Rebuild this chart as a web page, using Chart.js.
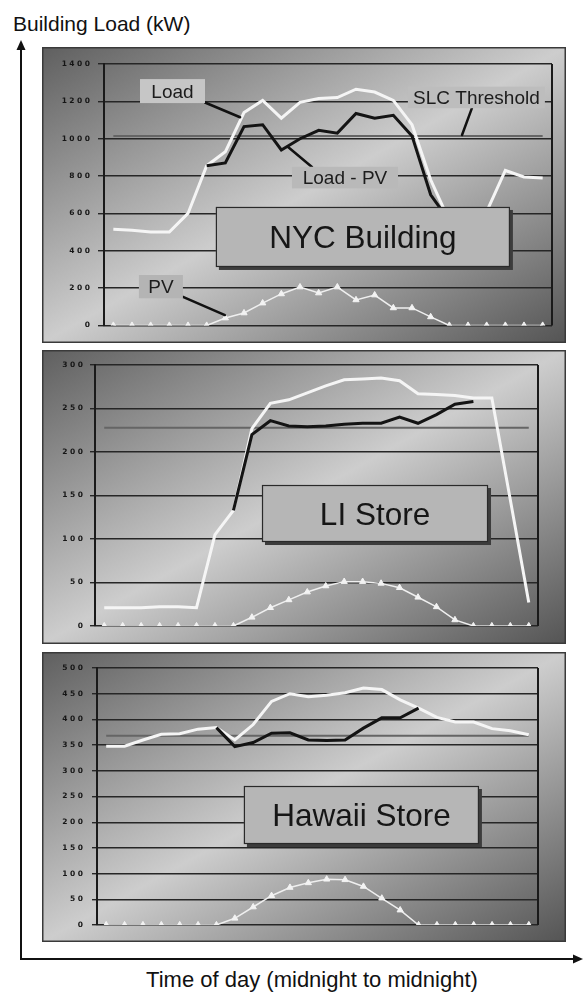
<!DOCTYPE html>
<html>
<head>
<meta charset="utf-8">
<script src="https://cdn.jsdelivr.net/npm/chart.js@4/dist/chart.umd.min.js"></script>
<style>
  html, body { margin: 0; padding: 0; background: #fff; }
  body { width: 583px; height: 995px; position: relative; overflow: hidden;
         font-family: "Liberation Sans", Arial, sans-serif; }
  .axis-title { position: absolute; color: #111; white-space: nowrap; line-height: 1; }
  canvas.panel { position: absolute; left: 42px; }
  svg { position: absolute; left: 0; top: 0; }
</style>
</head>
<body>
<div class="axis-title" style="left:13px; top:13px; font-size:21px;">Building Load (kW)</div>
<div class="axis-title" style="left:0; width:624px; text-align:center; top:969px; font-size:22px;">Time of day (midnight to midnight)</div>

<svg width="583" height="995">
  <line x1="21" y1="48" x2="21" y2="960" stroke="#111" stroke-width="2"/>
  <polygon points="21,40 16.5,50 25.5,50" fill="#111"/>
  <line x1="20" y1="959" x2="575" y2="959" stroke="#111" stroke-width="2"/>
  <polygon points="583,959 573,954.5 573,963.5" fill="#111"/>
</svg>

<canvas id="nyc" class="panel" width="524" height="296" style="top:47px"></canvas>
<canvas id="li" class="panel" width="524" height="294" style="top:350px"></canvas>
<canvas id="hawaii" class="panel" width="524" height="290" style="top:652px"></canvas>

<script>
// Hourly samples, midnight to midnight
const HOURS = ['0:00','1:00','2:00','3:00','4:00','5:00','6:00','7:00','8:00','9:00','10:00','11:00',
               '12:00','13:00','14:00','15:00','16:00','17:00','18:00','19:00','20:00','21:00','22:00','23:00'];

// NYC Building (kW)
const NYC_LOAD    = [515,510,500,500,600,855,930,1140,1205,1110,1195,1215,1220,1265,1250,1205,1075,780,560,520,610,830,795,790];
const NYC_LOAD_PV = [null,null,null,null,null,855,870,1065,1075,940,1000,1045,1030,1135,1110,1125,1015,700,560,null,null,null,null,null];
const NYC_PV      = [0,0,0,0,0,0,40,67,120,169,206,174,206,137,163,94,94,46,0,0,0,0,0,0];
const NYC_SLC     = 1015;
const NYC_TICKS   = [0,200,400,600,800,1000,1200,1400];

// LI Store (kW)
const LI_LOAD    = [21,21,21,22,22,21,105,133,227,256,260,268,276,283,284,285,282,267,266,265,262,262,145,27];
const LI_LOAD_PV = [null,null,null,null,null,null,null,133,220,236,230,229,230,232,233,233,240,233,243,255,258,null,null,null];
const LI_PV      = [0,0,0,0,0,0,0,0,10,21,30,39,46,51,51,49,44,33,22,7,0,0,0,0];
const LI_SLC     = 228;
const LI_TICKS   = [0,50,100,150,200,250,300];

// Hawaii Store (kW)
const HI_LOAD    = [348,348,360,371,372,381,384,360,390,435,450,444,447,452,461,458,438,422,404,395,395,382,378,370];
const HI_LOAD_PV = [null,null,null,null,null,null,384,347,355,373,374,360,359,360,383,403,403,422,null,null,null,null,null,null];
const HI_PV      = [0,0,0,0,0,0,0,13,35,57,73,82,89,88,75,52,29,0,0,0,0,0,0,0];
const HI_SLC     = 368;
const HI_TICKS   = [0,50,100,150,200,250,300,350,400,450,500];

const FONT = "'Liberation Sans', Arial, sans-serif";

// Panel backdrop: diagonal dark-light-dark gradient with a thin frame
const panelBackdrop = {
  id: 'panelBackdrop',
  beforeDraw(chart) {
    const { ctx, width: w, height: h } = chart;
    const n = h * h + w * w;
    const k = 2 * w * h / n;
    const g = ctx.createLinearGradient(0, 0, h * k, w * k);
    g.addColorStop(0, '#5f5f5f');
    g.addColorStop(0.5, '#cdcdcd');
    g.addColorStop(1, '#545454');
    ctx.save();
    ctx.fillStyle = g;
    ctx.fillRect(0, 0, w, h);
    ctx.strokeStyle = '#3a3a3a';
    ctx.lineWidth = 1.5;
    ctx.strokeRect(0.75, 0.75, w - 1.5, h - 1.5);
    ctx.restore();
    // widely spaced tick digits
    ctx.letterSpacing = '2.5px';
  },
  beforeDatasetsDraw(chart) {
    const { ctx, chartArea: a } = chart;
    ctx.letterSpacing = '0px';
    ctx.save();
    ctx.strokeStyle = '#1a1a1a';
    ctx.lineWidth = 2;
    ctx.beginPath();
    ctx.moveTo(a.right, a.top);
    ctx.lineTo(a.right, a.bottom);
    ctx.stroke();
    ctx.restore();
  }
};

// Callout tags, leader lines and the site name box, placed in data coordinates
function annotator(cfg) {
  return {
    id: 'annotator',
    afterDatasetsDraw(chart) {
      const { ctx, scales: { x, y } } = chart;
      const px = v => x.getPixelForValue(v);
      const py = v => y.getPixelForValue(v);
      ctx.save();
      ctx.letterSpacing = '0px';
      // leaders
      ctx.strokeStyle = '#111';
      ctx.lineWidth = 2.5;
      ctx.lineCap = 'round';
      (cfg.leaders || []).forEach(l => {
        ctx.beginPath();
        ctx.moveTo(px(l[0]), py(l[1]));
        ctx.lineTo(px(l[2]), py(l[3]));
        ctx.stroke();
      });
      // tags
      (cfg.tags || []).forEach(t => {
        const cx = px(t.at[0]), cy = py(t.at[1]);
        ctx.fillStyle = t.fill || '#c2c2c2';
        ctx.fillRect(cx - t.w / 2, cy - t.h / 2, t.w, t.h);
        ctx.fillStyle = '#1c1c1c';
        ctx.font = '19px ' + FONT;
        ctx.textAlign = 'center';
        ctx.textBaseline = 'alphabetic';
        ctx.fillText(t.text, cx, cy + 0.358 * 19);
      });
      // site name box
      if (cfg.name) {
        const b = cfg.name;
        const cx = px(b.at[0]), cy = py(b.at[1]);
        const l = cx - b.w / 2, t = cy - b.h / 2;
        ctx.fillStyle = '#3c3c3c';
        ctx.fillRect(l + 3, t + 3, b.w, b.h);
        ctx.fillStyle = '#b6b6b6';
        ctx.fillRect(l, t, b.w, b.h);
        ctx.strokeStyle = '#2a2a2a';
        ctx.lineWidth = 1.2;
        ctx.strokeRect(l + 0.5, t + 0.5, b.w - 1, b.h - 1);
        ctx.fillStyle = '#161616';
        ctx.font = b.size + 'px ' + FONT;
        ctx.textAlign = 'center';
        ctx.textBaseline = 'alphabetic';
        ctx.fillText(b.text, cx, cy + 0.358 * b.size);
      }
      ctx.restore();
    }
  };
}

function makePanel(id, s) {
  const ticks = s.ticks;
  return new Chart(document.getElementById(id), {
    type: 'line',
    data: {
      labels: HOURS,
      datasets: [
        { label: 'Load - PV', data: s.net, borderColor: '#141414', borderWidth: 3,
          pointRadius: 0, spanGaps: false, order: 1 },
        { label: 'Load', data: s.load, borderColor: '#f5f5f5', borderWidth: 3,
          pointRadius: 0, order: 2 },
        { label: 'PV', data: s.pv, borderColor: '#efefef', borderWidth: 1.5,
          pointStyle: 'triangle', pointRadius: 3.6, pointBackgroundColor: '#f3f3f3',
          pointBorderColor: '#f3f3f3', pointBorderWidth: 1, order: 3 },
        { label: 'SLC Threshold', data: [{ x: HOURS[0], y: s.slc }, { x: HOURS[HOURS.length - 1], y: s.slc }],
          borderColor: '#656565', borderWidth: 2, pointRadius: 0, order: 4 }
      ]
    },
    options: {
      responsive: false,
      animation: false,
      devicePixelRatio: 1,
      layout: { padding: s.padding },
      plugins: { legend: { display: false }, tooltip: { enabled: false } },
      scales: {
        x: { type: 'category', offset: true, display: false },
        y: {
          min: ticks[0], max: ticks[ticks.length - 1],
          afterFit(scale) { scale.width = s.axisWidth; },
          afterBuildTicks(scale) { scale.ticks = ticks.map(v => ({ value: v })); },
          border: { display: true, color: '#1a1a1a', width: 2 },
          grid: { color: '#262626', lineWidth: 1.4, tickLength: s.tickLen, tickColor: '#262626' },
          ticks: { padding: s.tickPad, color: '#151515',
                   callback: v => String(v),
                   font: { family: 'DejaVu Sans', size: 7.5, weight: 'bold' } }
        }
      }
    },
    plugins: [panelBackdrop, annotator(s.notes)]
  });
}

makePanel('nyc', {
  load: NYC_LOAD, net: NYC_LOAD_PV, pv: NYC_PV, slc: NYC_SLC, ticks: NYC_TICKS,
  padding: { left: 0, top: 17, right: 14, bottom: 17.5 },
  axisWidth: 62, tickLen: 6, tickPad: 5.5,
  notes: {
    leaders: [[4.91, 1194, 6.79, 1115], [19.21, 1164, 18.68, 1020],
              [10.64, 849, 9.36, 956], [3.73, 153, 5.98, 56]],
    tags: [
      { text: 'Load', at: [3.17, 1255], w: 65, h: 24, fill: '#c6c6c6' },
      { text: 'SLC Threshold', at: [19.45, 1221], w: 137, h: 21.6, fill: '#bdbdbd' },
      { text: 'Load - PV', at: [12.41, 792], w: 106, h: 21.6, fill: '#b9b9b9' },
      { text: 'PV', at: [2.55, 208], w: 44, h: 23.3, fill: '#b4b4b4' }
    ],
    name: { text: 'NYC Building', at: [13.37, 474], w: 294, h: 60, size: 31.5 }
  }
});

makePanel('li', {
  load: LI_LOAD, net: LI_LOAD_PV, pv: LI_PV, slc: LI_SLC, ticks: LI_TICKS,
  padding: { left: 0, top: 15, right: 28, bottom: 18 },
  axisWidth: 53, tickLen: 5, tickPad: 4.5,
  notes: { name: { text: 'LI Store', at: [14.67, 129.3], w: 226, h: 57, size: 31.5 } }
});

makePanel('hawaii', {
  load: HI_LOAD, net: HI_LOAD_PV, pv: HI_PV, slc: HI_SLC, ticks: HI_TICKS,
  padding: { left: 0, top: 16, right: 28, bottom: 17 },
  axisWidth: 55, tickLen: 5, tickPad: 6.5,
  notes: { name: { text: 'Hawaii Store', at: [13.89, 214], w: 235, h: 58, size: 31.5 } }
});
</script>
</body>
</html>
